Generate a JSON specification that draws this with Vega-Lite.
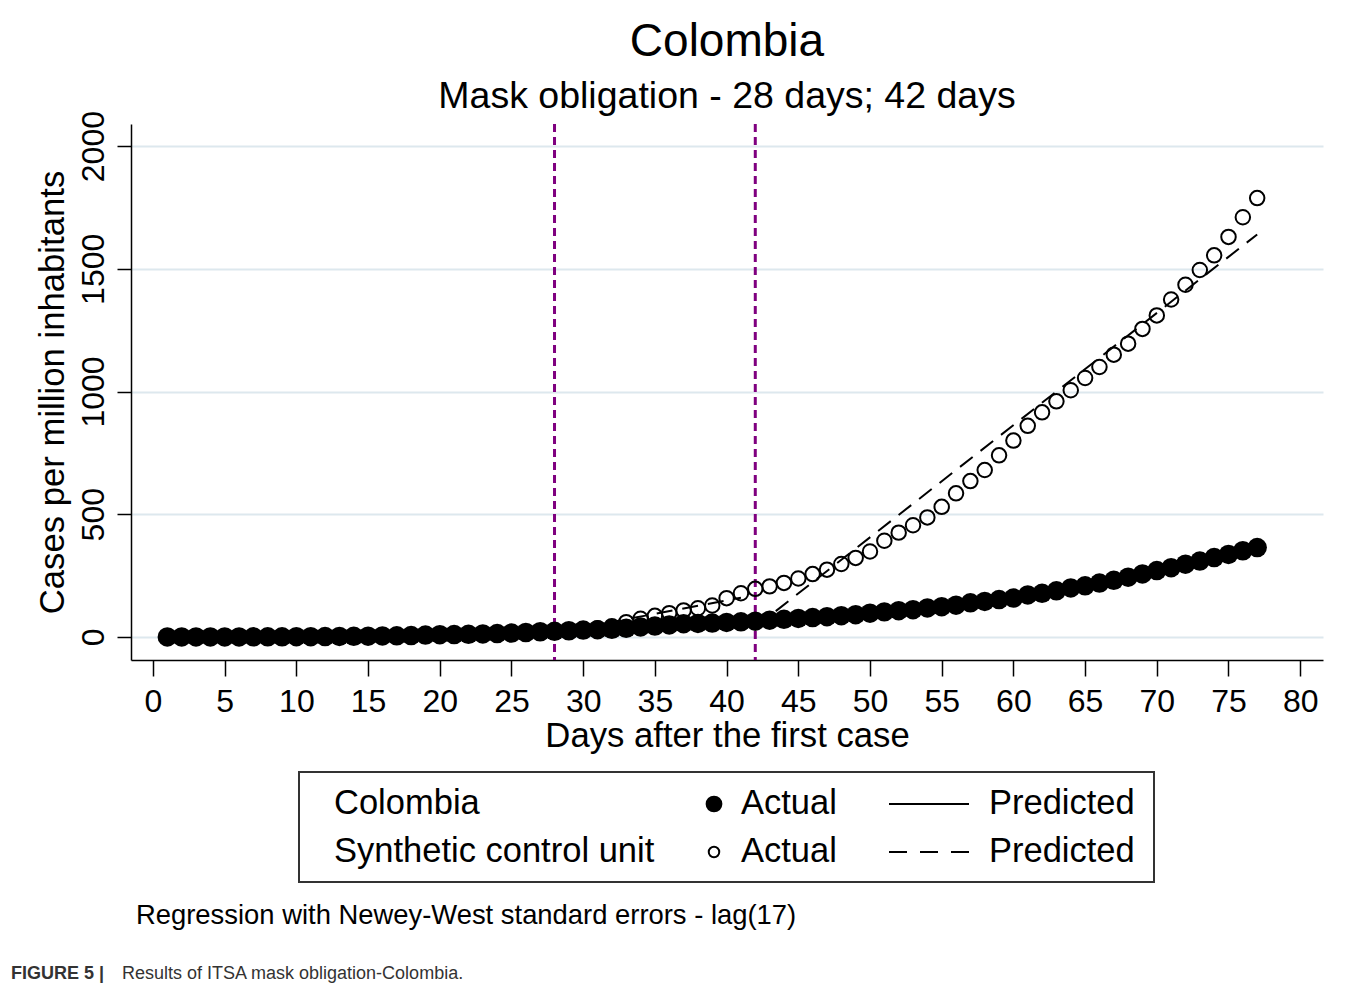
{
  "$schema": "https://vega.github.io/schema/vega-lite/v6.json",
  "background": "white",
  "padding": {"left": 10, "top": 18, "right": 10, "bottom": 10},
  "config": {
    "view": {"stroke": null},
    "font": "Liberation Sans",
    "title": {"font": "Liberation Sans", "subtitleFont": "Liberation Sans"},
    "text": {"font": "Liberation Sans"},
    "axis": {
      "labelFont": "Liberation Sans", "titleFont": "Liberation Sans",
      "labelColor": "black", "titleColor": "black",
      "domainColor": "black", "tickColor": "black",
      "domainWidth": 1.5, "tickWidth": 1.5,
      "titleFontWeight": "normal", "labelOverlap": false, "labelFlush": false
    },
    "axisX": {"grid": false, "labelFontSize": 32, "titleFontSize": 34.7, "tickSize": 16, "labelPadding": 10, "titlePadding": 2},
    "axisY": {
      "grid": true, "gridColor": "#dde8ee", "gridWidth": 2,
      "labelAngle": -90, "labelAlign": "center", "labelBaseline": "alphabetic",
      "labelFontSize": 32, "tickSize": 14, "labelPadding": 14,
      "titleFontSize": 34.7, "titleAngle": -90, "titleBaseline": "alphabetic",
      "titleAlign": "center", "titleX": -68, "titleY": 268
    }
  },
  "title": {
    "text": "FIGURE 5 |",
    "orient": "bottom", "anchor": "start",
    "fontSize": 18, "fontWeight": "bold", "color": "#333333",
    "offset": -18, "dx": -24
  },
  "datasets": {
    "observed": [
      {"day": 1, "colombia": 0.0, "synthetic": 0.1},
      {"day": 2, "colombia": 0.0, "synthetic": 0.2},
      {"day": 3, "colombia": 0.0, "synthetic": 0.3},
      {"day": 4, "colombia": 0.1, "synthetic": 0.4},
      {"day": 5, "colombia": 0.1, "synthetic": 0.6},
      {"day": 6, "colombia": 0.2, "synthetic": 0.8},
      {"day": 7, "colombia": 0.3, "synthetic": 1.0},
      {"day": 8, "colombia": 0.3, "synthetic": 1.3},
      {"day": 9, "colombia": 0.5, "synthetic": 1.6},
      {"day": 10, "colombia": 0.9, "synthetic": 2.0},
      {"day": 11, "colombia": 1.1, "synthetic": 2.5},
      {"day": 12, "colombia": 1.5, "synthetic": 3.0},
      {"day": 13, "colombia": 2.0, "synthetic": 3.6},
      {"day": 14, "colombia": 2.5, "synthetic": 4.3},
      {"day": 15, "colombia": 3.1, "synthetic": 5.0},
      {"day": 16, "colombia": 3.9, "synthetic": 5.8},
      {"day": 17, "colombia": 4.6, "synthetic": 6.7},
      {"day": 18, "colombia": 5.5, "synthetic": 7.7},
      {"day": 19, "colombia": 7.5, "synthetic": 8.8},
      {"day": 20, "colombia": 9.3, "synthetic": 10.0},
      {"day": 21, "colombia": 9.7, "synthetic": 11.3},
      {"day": 22, "colombia": 10.7, "synthetic": 12.7},
      {"day": 23, "colombia": 12.1, "synthetic": 14.3},
      {"day": 24, "colombia": 13.9, "synthetic": 16.0},
      {"day": 25, "colombia": 15.8, "synthetic": 17.9},
      {"day": 26, "colombia": 18.0, "synthetic": 20.0},
      {"day": 27, "colombia": 21.1, "synthetic": 22.3},
      {"day": 28, "colombia": 23.0, "synthetic": 24.8},
      {"day": 29, "colombia": 25.2, "synthetic": 27.6},
      {"day": 30, "colombia": 27.9, "synthetic": 30.8},
      {"day": 31, "colombia": 29.5, "synthetic": 35.0},
      {"day": 32, "colombia": 31.3, "synthetic": 44.0},
      {"day": 33, "colombia": 35.3, "synthetic": 60},
      {"day": 34, "colombia": 40.8, "synthetic": 74},
      {"day": 35, "colombia": 44.1, "synthetic": 86},
      {"day": 36, "colombia": 49.1, "synthetic": 97},
      {"day": 37, "colombia": 53.8, "synthetic": 108},
      {"day": 38, "colombia": 55.1, "synthetic": 117},
      {"day": 39, "colombia": 56.6, "synthetic": 128},
      {"day": 40, "colombia": 59.1, "synthetic": 158},
      {"day": 41, "colombia": 61.6, "synthetic": 178},
      {"day": 42, "colombia": 64.2, "synthetic": 196},
      {"day": 43, "colombia": 68.3, "synthetic": 206},
      {"day": 44, "colombia": 71.9, "synthetic": 220},
      {"day": 45, "colombia": 75.3, "synthetic": 238},
      {"day": 46, "colombia": 79.0, "synthetic": 256},
      {"day": 47, "colombia": 82.4, "synthetic": 274},
      {"day": 48, "colombia": 86.5, "synthetic": 297},
      {"day": 49, "colombia": 90.5, "synthetic": 322},
      {"day": 50, "colombia": 96.9, "synthetic": 348},
      {"day": 51, "colombia": 102.1, "synthetic": 392},
      {"day": 52, "colombia": 106.8, "synthetic": 425},
      {"day": 53, "colombia": 111.1, "synthetic": 455},
      {"day": 54, "colombia": 118.1, "synthetic": 487},
      {"day": 55, "colombia": 123.2, "synthetic": 530},
      {"day": 56, "colombia": 129.2, "synthetic": 585},
      {"day": 57, "colombia": 139.1, "synthetic": 635},
      {"day": 58, "colombia": 144.6, "synthetic": 680},
      {"day": 59, "colombia": 152.2, "synthetic": 740},
      {"day": 60, "colombia": 158.3, "synthetic": 800},
      {"day": 61, "colombia": 171.0, "synthetic": 860},
      {"day": 62, "colombia": 177.9, "synthetic": 915},
      {"day": 63, "colombia": 187.7, "synthetic": 960},
      {"day": 64, "colombia": 199.5, "synthetic": 1005},
      {"day": 65, "colombia": 208.4, "synthetic": 1055},
      {"day": 66, "colombia": 219.6, "synthetic": 1100},
      {"day": 67, "colombia": 230.6, "synthetic": 1150},
      {"day": 68, "colombia": 243.6, "synthetic": 1195},
      {"day": 69, "colombia": 256.7, "synthetic": 1255},
      {"day": 70, "colombia": 270.2, "synthetic": 1310},
      {"day": 71, "colombia": 282.2, "synthetic": 1375},
      {"day": 72, "colombia": 296.6, "synthetic": 1435},
      {"day": 73, "colombia": 309.2, "synthetic": 1495},
      {"day": 74, "colombia": 323.5, "synthetic": 1555},
      {"day": 75, "colombia": 336.2, "synthetic": 1630},
      {"day": 76, "colombia": 351.1, "synthetic": 1710},
      {"day": 77, "colombia": 363.9, "synthetic": 1788}
    ],
    "predicted": [
      {"day": 1, "segment": 1, "synthetic_pred": -4},
      {"day": 27, "segment": 1, "synthetic_pred": 22},
      {"day": 28, "segment": 2, "synthetic_pred": 17},
      {"day": 41, "segment": 2, "synthetic_pred": 160},
      {"day": 42, "segment": 3, "synthetic_pred": 40},
      {"day": 77, "segment": 3, "synthetic_pred": 1640}
    ],
    "periods": [{"day": 28}, {"day": 42}],
    "legend": [
      {"series": "Colombia", "kind": "Actual"},
      {"series": "Colombia", "kind": "Predicted"},
      {"series": "Synthetic control unit", "kind": "Actual"},
      {"series": "Synthetic control unit", "kind": "Predicted"}
    ]
  },
  "center": true,
  "spacing": 18,
  "vconcat": [
    {
      "width": 1192,
      "height": 536,
      "title": {
        "text": "Colombia",
        "subtitle": "Mask obligation - 28 days; 42 days",
        "anchor": "middle", "fontSize": 46, "fontWeight": "normal", "color": "black",
        "subtitleFontSize": 37.5, "subtitleColor": "black", "subtitlePadding": 12, "offset": -6
      },
      "encoding": {
        "x": {
          "field": "day", "type": "quantitative", "title": "Days after the first case",
          "scale": {"domain": [-1.534, 81.59], "nice": false, "zero": false},
          "axis": {"values": [0, 5, 10, 15, 20, 25, 30, 35, 40, 45, 50, 55, 60, 65, 70, 75, 80], "format": "d"}
        }
      },
      "layer": [
        {
          "data": {"name": "periods"},
          "mark": {"type": "rule", "color": "#7f007f", "strokeDash": [8, 5], "strokeWidth": 3},
          "encoding": {}
        },
        {
          "data": {"name": "observed"},
          "mark": {"type": "point", "shape": "circle", "filled": false, "stroke": "black", "strokeWidth": 2, "size": 210, "opacity": 1},
          "encoding": {
            "y": {"field": "synthetic", "type": "quantitative", "title": "Cases per million inhabitants",
                  "scale": {"domain": [-94, 2090], "nice": false, "zero": false},
                  "axis": {"values": [0, 500, 1000, 1500, 2000], "format": "d"}}
          }
        },
        {
          "data": {"name": "predicted"},
          "mark": {"type": "line", "color": "black", "strokeWidth": 2, "strokeDash": [16, 10]},
          "encoding": {
            "y": {"field": "synthetic_pred", "type": "quantitative", "title": "Cases per million inhabitants",
                  "scale": {"domain": [-94, 2090], "nice": false, "zero": false},
                  "axis": {"values": [0, 500, 1000, 1500, 2000], "format": "d"}},
            "detail": {"field": "segment", "type": "nominal"}
          }
        },
        {
          "data": {"name": "observed"},
          "mark": {"type": "line", "color": "black", "strokeWidth": 2},
          "encoding": {
            "y": {"field": "colombia", "type": "quantitative", "title": "Cases per million inhabitants",
                  "scale": {"domain": [-94, 2090], "nice": false, "zero": false},
                  "axis": {"values": [0, 500, 1000, 1500, 2000], "format": "d"}}
          }
        },
        {
          "data": {"name": "observed"},
          "mark": {"type": "point", "shape": "circle", "filled": true, "color": "black", "size": 380, "opacity": 1},
          "encoding": {
            "y": {"field": "colombia", "type": "quantitative", "title": "Cases per million inhabitants",
                  "scale": {"domain": [-94, 2090], "nice": false, "zero": false},
                  "axis": {"values": [0, 500, 1000, 1500, 2000], "format": "d"}}
          }
        }
      ]
    },
    {
      "width": 855,
      "height": 110,
      "view": {"stroke": "#333333", "strokeWidth": 2},
      "data": {"name": "legend"},
      "title": {
        "text": "Regression with Newey-West standard errors - lag(17)",
        "orient": "bottom", "anchor": "start", "fontSize": 27.4, "fontWeight": "normal",
        "color": "black", "dx": -163, "offset": 20
      },
      "encoding": {
        "y": {"field": "series", "type": "nominal",
              "scale": {"type": "point", "domain": ["Colombia", "Synthetic control unit"], "range": [32, 80], "padding": 0},
              "axis": null}
      },
      "layer": [
        {
          "transform": [{"filter": "datum.kind === 'Actual'"}],
          "mark": {"type": "text", "align": "left", "baseline": "middle", "fontSize": 34.5, "color": "black", "dx": -407},
          "encoding": {
            "x": {"field": "kind", "type": "nominal",
                  "scale": {"type": "point", "domain": ["Actual", "Predicted"], "range": [442, 690], "padding": 0},
                  "axis": null},
            "text": {"field": "series"}
          }
        },
        {
          "mark": {"type": "text", "align": "left", "baseline": "middle", "fontSize": 34.5, "color": "black"},
          "encoding": {
            "x": {"field": "kind", "type": "nominal", "axis": null},
            "text": {"field": "kind"}
          }
        },
        {
          "transform": [{"filter": "datum.kind === 'Actual' && datum.series === 'Colombia'"}],
          "mark": {"type": "point", "shape": "circle", "filled": true, "color": "black", "size": 280, "opacity": 1, "xOffset": -27},
          "encoding": {"x": {"field": "kind", "type": "nominal", "axis": null}}
        },
        {
          "transform": [{"filter": "datum.kind === 'Actual' && datum.series !== 'Colombia'"}],
          "mark": {"type": "point", "shape": "circle", "filled": false, "stroke": "black", "strokeWidth": 2, "size": 110, "opacity": 1, "xOffset": -27},
          "encoding": {"x": {"field": "kind", "type": "nominal", "axis": null}}
        },
        {
          "transform": [{"filter": "datum.kind === 'Predicted' && datum.series === 'Colombia'"}],
          "mark": {"type": "point", "shape": "M-1,0H1", "filled": false, "stroke": "black", "strokeWidth": 2, "size": 6400, "opacity": 1, "xOffset": -60},
          "encoding": {"x": {"field": "kind", "type": "nominal", "axis": null}}
        },
        {
          "transform": [{"filter": "datum.kind === 'Predicted' && datum.series !== 'Colombia'"}],
          "mark": {"type": "point", "shape": "M-1,0H1", "filled": false, "stroke": "black", "strokeWidth": 2, "strokeDash": [18, 13], "size": 6400, "opacity": 1, "xOffset": -60},
          "encoding": {"x": {"field": "kind", "type": "nominal", "axis": null}}
        }
      ]
    },
    {
      "width": 1192,
      "height": 1,
      "data": {"values": []},
      "mark": {"type": "rule"},
      "encoding": {},
      "title": {
        "text": "Results of ITSA mask obligation-Colombia.",
        "orient": "bottom", "anchor": "start", "fontSize": 18, "fontWeight": "normal",
        "color": "#333333", "dx": -9, "offset": 15
      }
    }
  ]
}
